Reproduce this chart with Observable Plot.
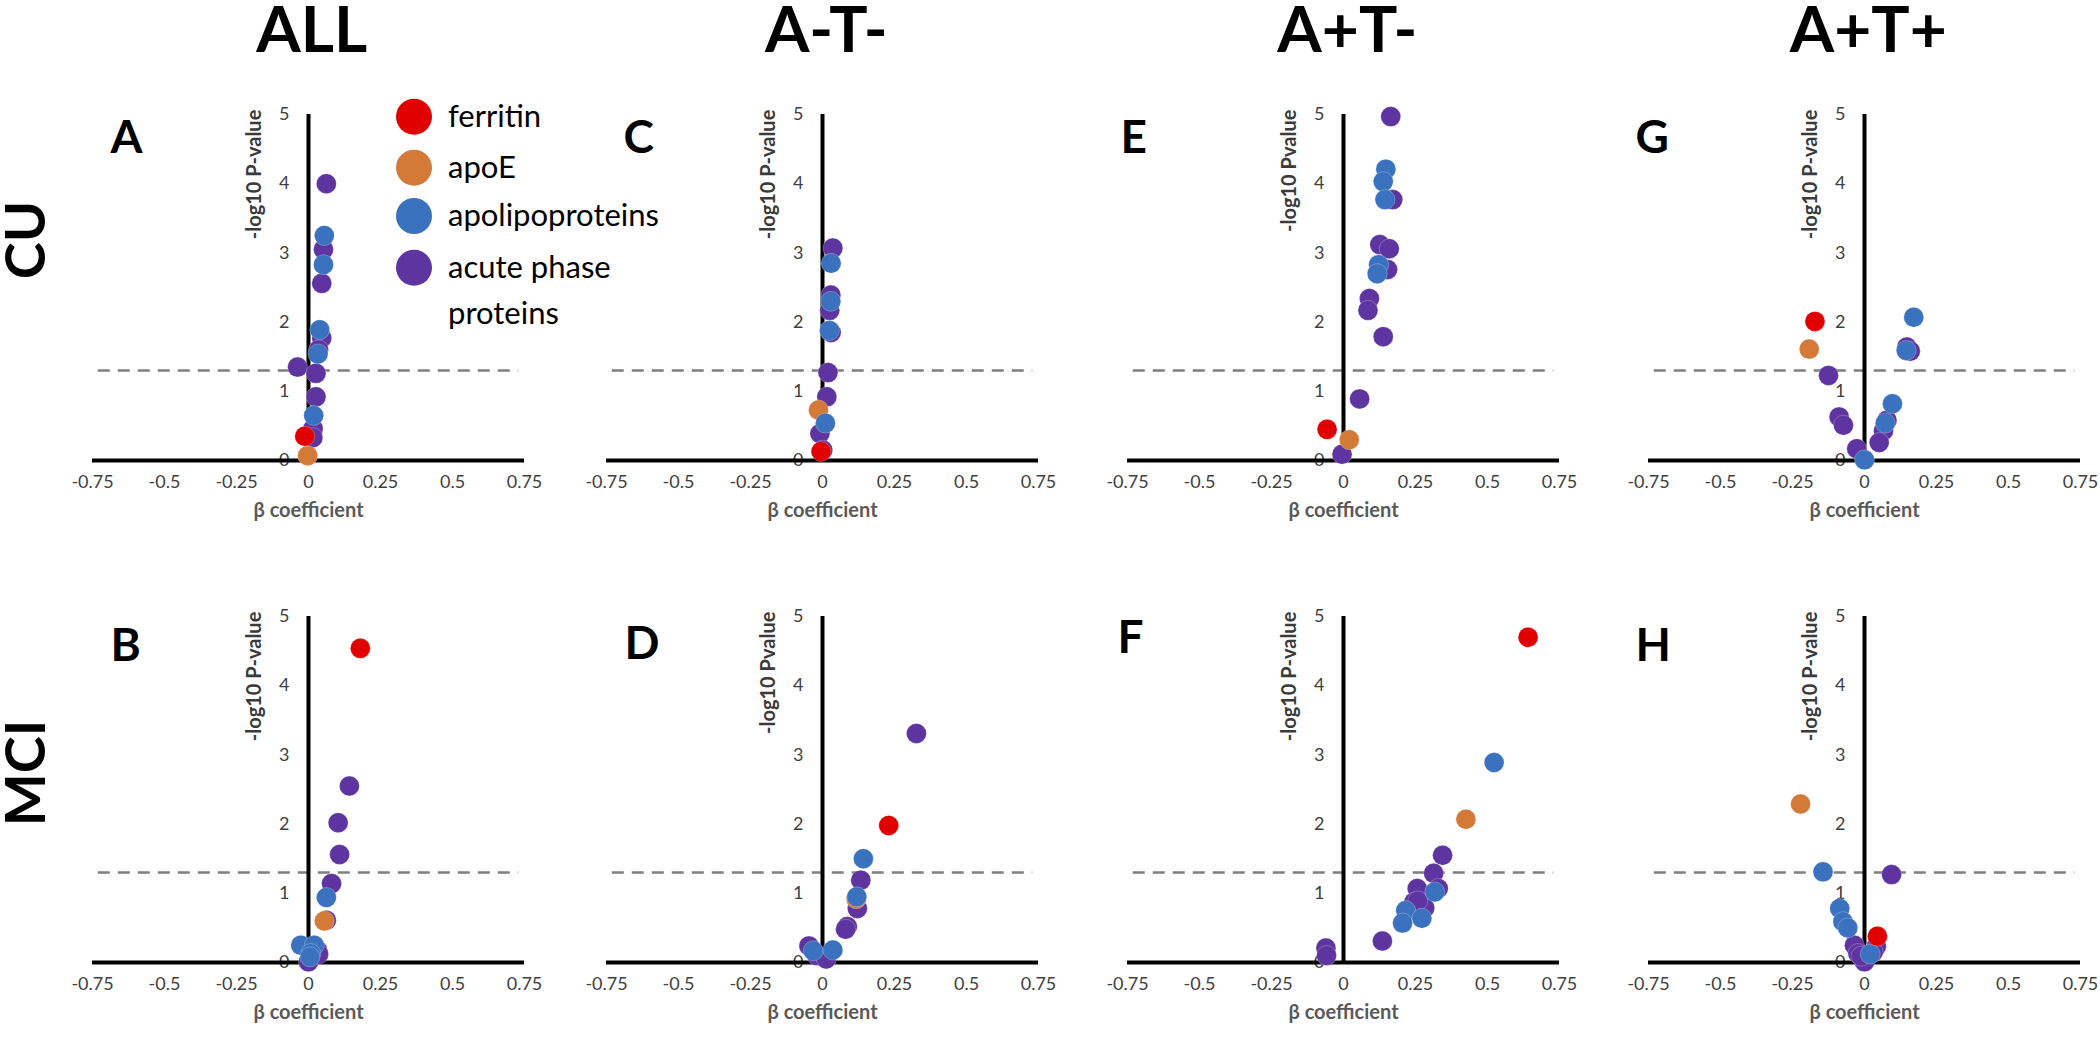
<!DOCTYPE html>
<html>
<head>
<meta charset="utf-8">
<script src="https://cdn.jsdelivr.net/npm/d3@7"></script>
<script src="https://cdn.jsdelivr.net/npm/@observablehq/plot@0.6"></script>
<style>
  html, body { margin: 0; padding: 0; background: #fff; }
  #root { position: relative; width: 2100px; height: 1040px; overflow: hidden; font-family: Lato, "Open Sans", sans-serif; }
  #root svg.panel { position: absolute; overflow: visible; }
  #overlay { position: absolute; left: 0; top: 0; }
</style>
</head>
<body>
<div id="root"></div>
<script>
// ---------- data ----------
const categories = ["ferritin", "apoE", "apolipoproteins", "acute phase proteins"];
const categoryColors = ["#e00000", "#d37a39", "#3a72bf", "#5e35a0"];
const drawOrder = ["acute phase proteins", "apoE", "apolipoproteins", "ferritin"];

const columnTitles = ["ALL", "A-T-", "A+T-", "A+T+"];
const rowTitles = ["CU", "MCI"];
const xTicks = [-0.75, -0.5, -0.25, 0, 0.25, 0.5, 0.75];
const yTicks = [0, 1, 2, 3, 4, 5];
const significance = -Math.log10(0.05);

// [category, beta coefficient, -log10 p]
const panelA = [
  ["acute phase proteins", 0.062, 4.0], ["acute phase proteins", 0.052, 3.05], ["acute phase proteins", 0.046, 2.56],
  ["acute phase proteins", 0.046, 1.77], ["acute phase proteins", 0.035, 1.6], ["acute phase proteins", -0.038, 1.35],
  ["acute phase proteins", 0.026, 1.26], ["acute phase proteins", 0.026, 0.92], ["acute phase proteins", 0.016, 0.46],
  ["acute phase proteins", 0.015, 0.33],
  ["apolipoproteins", 0.055, 3.25], ["apolipoproteins", 0.052, 2.83], ["apolipoproteins", 0.039, 1.89],
  ["apolipoproteins", 0.033, 1.54], ["apolipoproteins", 0.018, 0.65],
  ["ferritin", -0.013, 0.35],
  ["apoE", -0.003, 0.07]
];
const panelC = [
  ["acute phase proteins", 0.036, 3.07], ["acute phase proteins", 0.029, 2.39], ["acute phase proteins", 0.025, 2.17],
  ["acute phase proteins", 0.030, 1.85], ["acute phase proteins", 0.019, 1.27], ["acute phase proteins", 0.015, 0.92],
  ["acute phase proteins", -0.009, 0.39], ["acute phase proteins", 0.001, 0.15],
  ["apolipoproteins", 0.030, 2.85], ["apolipoproteins", 0.029, 2.30], ["apolipoproteins", 0.024, 1.88],
  ["apolipoproteins", 0.010, 0.54],
  ["apoE", -0.014, 0.73],
  ["ferritin", -0.005, 0.13]
];
const panelE = [
  ["acute phase proteins", 0.164, 4.97], ["acute phase proteins", 0.171, 3.77], ["acute phase proteins", 0.126, 3.12],
  ["acute phase proteins", 0.159, 3.06], ["acute phase proteins", 0.153, 2.76], ["acute phase proteins", 0.090, 2.34],
  ["acute phase proteins", 0.085, 2.17], ["acute phase proteins", 0.138, 1.79], ["acute phase proteins", 0.056, 0.89],
  ["acute phase proteins", -0.005, 0.09],
  ["apolipoproteins", 0.147, 4.21], ["apolipoproteins", 0.138, 4.03], ["apolipoproteins", 0.144, 3.77],
  ["apolipoproteins", 0.122, 2.83], ["apolipoproteins", 0.117, 2.70],
  ["ferritin", -0.057, 0.45],
  ["apoE", 0.020, 0.30]
];
const panelG = [
  ["ferritin", -0.172, 2.01],
  ["apoE", -0.192, 1.61],
  ["apolipoproteins", 0.171, 2.07], ["apolipoproteins", 0.145, 1.59], ["apolipoproteins", 0.097, 0.82],
  ["apolipoproteins", 0.072, 0.54], ["apolipoproteins", 0.0, 0.01],
  ["acute phase proteins", 0.147, 1.64], ["acute phase proteins", 0.159, 1.58], ["acute phase proteins", -0.125, 1.23],
  ["acute phase proteins", -0.088, 0.63], ["acute phase proteins", -0.073, 0.51], ["acute phase proteins", 0.078, 0.58],
  ["acute phase proteins", 0.066, 0.43], ["acute phase proteins", 0.051, 0.26], ["acute phase proteins", -0.027, 0.17]
];
const panelB = [
  ["ferritin", 0.180, 4.54],
  ["acute phase proteins", 0.142, 2.55], ["acute phase proteins", 0.103, 2.02], ["acute phase proteins", 0.108, 1.56],
  ["acute phase proteins", 0.080, 1.14], ["acute phase proteins", 0.062, 0.61], ["acute phase proteins", 0.031, 0.18],
  ["acute phase proteins", 0.0, 0.01], ["acute phase proteins", 0.035, 0.12],
  ["apolipoproteins", 0.062, 0.94], ["apolipoproteins", -0.027, 0.25], ["apolipoproteins", 0.020, 0.25],
  ["apolipoproteins", 0.008, 0.13], ["apolipoproteins", 0.005, 0.08],
  ["apoE", 0.055, 0.60]
];
const panelD = [
  ["acute phase proteins", 0.326, 3.31], ["acute phase proteins", 0.133, 1.19], ["acute phase proteins", 0.121, 0.78],
  ["acute phase proteins", 0.086, 0.52], ["acute phase proteins", 0.080, 0.48], ["acute phase proteins", -0.047, 0.24],
  ["acute phase proteins", -0.020, 0.10], ["acute phase proteins", 0.013, 0.05],
  ["ferritin", 0.230, 1.98],
  ["apolipoproteins", 0.142, 1.50], ["apolipoproteins", 0.119, 0.95], ["apolipoproteins", -0.032, 0.17],
  ["apolipoproteins", 0.036, 0.18],
  ["apoE", 0.117, 0.92]
];
const panelF = [
  ["ferritin", 0.641, 4.70],
  ["apoE", 0.425, 2.07],
  ["apolipoproteins", 0.523, 2.89], ["apolipoproteins", 0.317, 1.02], ["apolipoproteins", 0.216, 0.75],
  ["apolipoproteins", 0.272, 0.64], ["apolipoproteins", 0.205, 0.57],
  ["acute phase proteins", 0.344, 1.55], ["acute phase proteins", 0.313, 1.29], ["acute phase proteins", 0.329, 1.07],
  ["acute phase proteins", 0.256, 1.07], ["acute phase proteins", 0.244, 0.87], ["acute phase proteins", 0.282, 0.79],
  ["acute phase proteins", 0.258, 0.89], ["acute phase proteins", 0.135, 0.31], ["acute phase proteins", -0.061, 0.21],
  ["acute phase proteins", -0.059, 0.10]
];
const panelH = [
  ["apoE", -0.222, 2.29],
  ["apolipoproteins", -0.144, 1.31], ["apolipoproteins", -0.086, 0.78], ["apolipoproteins", -0.075, 0.59],
  ["apolipoproteins", -0.058, 0.50], ["apolipoproteins", 0.020, 0.12],
  ["acute phase proteins", 0.094, 1.27], ["acute phase proteins", -0.035, 0.25], ["acute phase proteins", -0.023, 0.13],
  ["acute phase proteins", 0.041, 0.23], ["acute phase proteins", 0.0, 0.01], ["acute phase proteins", -0.012, 0.09],
  ["acute phase proteins", 0.030, 0.15],
  ["ferritin", 0.045, 0.38]
];

// ---------- layout ----------
const colZeroX = [307.7, 822.3, 1343.3, 1864.3];   // pixel of beta = 0 in each column
const rowZeroY = [460, 962];                       // pixel of -log10 p = 0 in each row
const pxPerBeta = 288, plotH = 346;
const mL = 40, mR = 20, mT = 20, mB = 76;

const panels = [
  {data: panelA, letter: "A", col: 0, row: 0, ylab: "-log10 P-value", ldx: 18, ldy: 6},
  {data: panelC, letter: "C", col: 1, row: 0, ylab: "-log10 P-value", ldx: 17, ldy: 6},
  {data: panelE, letter: "E", col: 2, row: 0, ylab: "-log10 Pvalue", ldx: -7, ldy: 6},
  {data: panelG, letter: "G", col: 3, row: 0, ylab: "-log10 P-value", ldx: -13, ldy: 6},
  {data: panelB, letter: "B", col: 0, row: 1, ylab: "-log10 P-value", ldx: 18, ldy: 12},
  {data: panelD, letter: "D", col: 1, row: 1, ylab: "-log10 Pvalue", ldx: 18, ldy: 10},
  {data: panelF, letter: "F", col: 2, row: 1, ylab: "-log10 P-value", ldx: -10, ldy: 4},
  {data: panelH, letter: "H", col: 3, row: 1, ylab: "-log10 P-value", ldx: -13, ldy: 12}
];

const root = document.getElementById("root");
const font = "Lato, 'Open Sans', sans-serif";

for (const p of panels) {
  const rows = p.data.map(([cat, beta, logp]) => ({cat, beta, logp}))
    .sort((a, b) => drawOrder.indexOf(a.cat) - drawOrder.indexOf(b.cat));
  const w = mL + pxPerBeta * 1.5 + mR;
  const h = mT + plotH + mB;
  const chart = Plot.plot({
    width: w, height: h,
    marginLeft: mL, marginRight: mR, marginTop: mT, marginBottom: mB,
    x: {domain: [-0.75, 0.75]},
    y: {domain: [0, 5]},
    color: {domain: categories, range: categoryColors},
    style: {fontFamily: font, background: "transparent", overflow: "visible"},
    marks: [
      Plot.ruleY([significance], {x1: -0.73, x2: 0.73, stroke: "#7f7f7f", strokeWidth: 2.5, strokeDasharray: "12,8"}),
      Plot.axisX({ticks: xTicks, tickSize: 0, tickPadding: 15, tickFormat: d => String(d),
                  fontSize: 18, color: "#404040", label: null}),
      Plot.axisY({ticks: [], label: null, tickSize: 0}),
      Plot.text(yTicks, {x: 0, y: d => d, text: d => String(d), dx: -19, textAnchor: "end",
                         fontSize: 18, fill: "#404040"}),
      Plot.ruleY([0], {stroke: "#000", strokeWidth: 4}),
      Plot.ruleX([0], {y1: 0, y2: 5, stroke: "#000", strokeWidth: 4}),
      Plot.dot(rows, {x: "beta", y: "logp", fill: "cat", r: 10, stroke: "white", strokeOpacity: 0.25, strokeWidth: 1}),
      Plot.text([p.ylab], {x: 0, y: 5.07, rotate: -90, textAnchor: "end", dx: -54,
                           fontSize: 20, fontWeight: "bold", fill: "#3a3a3a"}),
      Plot.text(["β coefficient"], {frameAnchor: "bottom", dy: 56, fontSize: 20, fontWeight: "bold", fill: "#595959"}),
      Plot.text([p.letter], {frameAnchor: "top-left", textAnchor: "start", lineAnchor: "top",
                             dx: p.ldx, dy: p.ldy, fontSize: 46, fontWeight: "bold", fill: "#000"})
    ]
  });
  chart.classList.add("panel");
  chart.style.left = (colZeroX[p.col] - pxPerBeta * 0.75 - mL) + "px";
  chart.style.top = (rowZeroY[p.row] - plotH - mT) + "px";
  root.appendChild(chart);
}

// ---------- titles, row labels, legend ----------
const ov = d3.select(root).append("svg").attr("id", "overlay").attr("width", 2100).attr("height", 1040)
  .style("font-family", font);
ov.selectAll("text.col").data(columnTitles).join("text")
  .attr("x", (d, i) => colZeroX[i] + 4).attr("y", 52)
  .attr("text-anchor", "middle").attr("font-size", 64).attr("font-weight", "bold").text(d => d);
ov.selectAll("text.row").data(rowTitles).join("text")
  .attr("transform", (d, i) => `translate(45,${i === 0 ? 240 : 773}) rotate(-90)`)
  .attr("text-anchor", "middle").attr("font-size", 56).attr("font-weight", "bold").text(d => d);

const legendY = [116.7, 167.7, 216, 267.7];
const lg = ov.append("g");
categories.forEach((c, i) => {
  lg.append("circle").attr("cx", 414).attr("cy", legendY[i]).attr("r", 18).attr("fill", categoryColors[i]);
  const words = c === "acute phase proteins" ? ["acute phase", "proteins"] : [c];
  words.forEach((wd, j) => {
    lg.append("text").attr("x", 448).attr("y", legendY[i] + 10 + j * 46)
      .attr("font-size", 31).attr("fill", "#000").text(wd);
  });
});
</script>
</body>
</html>
